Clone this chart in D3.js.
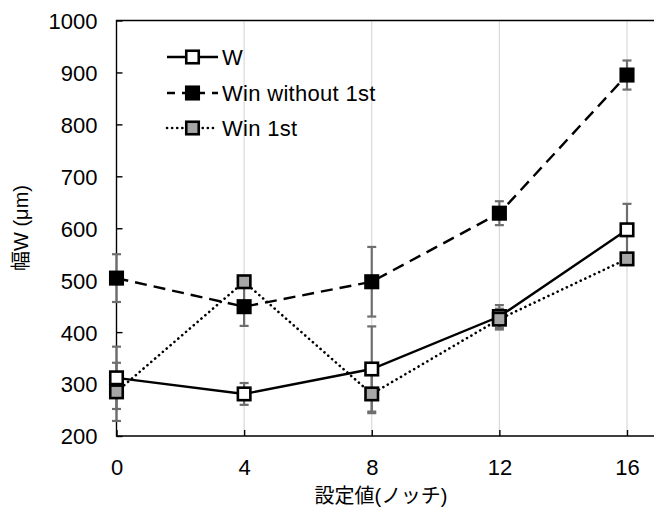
<!DOCTYPE html>
<html>
<head>
<meta charset="utf-8">
<script src="https://cdn.jsdelivr.net/npm/d3@7/dist/d3.min.js"></script>
<style>
  html, body { margin: 0; padding: 0; background: #fff; }
  svg { display: block; }
  text { font-family: "Liberation Sans", Arial, "Noto Sans CJK JP", sans-serif; fill: #000; }
</style>
</head>
<body>
<svg id="chart" width="654" height="509"></svg>
<script>
// Setting (notch) positions
const notches = [0, 4, 8, 12, 16];

// Width values (µm) and their error half-ranges
const wValues = [312, 281, 329, 430, 597];
const wErr = [60, 21, 82, 22, 50];

const winWithoutValues = [504, 449, 497, 629, 895];
const winWithoutErr = [46, 37, 67, 23, 28];

const win1stValues = [285, 497, 281, 425, 541];
const win1stErr = [56, 10, 37, 20, 10];

const yTicks = [200, 300, 400, 500, 600, 700, 800, 900, 1000];
const xTicks = [0, 4, 8, 12, 16];

const seriesNames = ["W", "Win without 1st", "Win 1st"];

const series = [
  { name: seriesNames[0], values: wValues, err: wErr, fill: "#ffffff", dash: null },
  { name: seriesNames[1], values: winWithoutValues, err: winWithoutErr, fill: "#000000", dash: "12,7" },
  { name: seriesNames[2], values: win1stValues, err: win1stErr, fill: "#a6a6a6", dash: "0.1,5" }
];

const svg = d3.select("#chart");
const plotLeft = 116.5, plotRight = 654, plotTop = 20.5, plotBottom = 436;

const x = d3.scaleLinear().domain([0, 16]).range([plotLeft, 627]);
const y = d3.scaleLinear().domain([200, 1000]).range([plotBottom, plotTop]);

// Vertical gridlines
svg.append("g")
  .selectAll("line")
  .data(xTicks.filter(d => d > 0))
  .join("line")
  .attr("x1", d => x(d)).attr("x2", d => x(d))
  .attr("y1", plotTop).attr("y2", plotBottom)
  .attr("stroke", "#d9d9d9").attr("stroke-width", 1.2);

// Plot frame (top, left, bottom)
svg.append("path")
  .attr("d", `M${plotRight},${plotTop}H${plotLeft}V${plotBottom}H${plotRight}`)
  .attr("fill", "none").attr("stroke", "#000").attr("stroke-width", 1.4);

// Y axis with inward ticks
const yAxis = svg.append("g")
  .attr("transform", `translate(${plotLeft},0)`)
  .call(d3.axisLeft(y).tickValues(yTicks).tickFormat(d3.format("d"))
    .tickSizeInner(-6).tickSizeOuter(0).tickPadding(19));
yAxis.select(".domain").remove();
yAxis.selectAll(".tick line").attr("stroke", "#000").attr("stroke-width", 1.4);
yAxis.selectAll("text").style("font-size", "22px").attr("dy", "0.36em");

// X axis with inward ticks
const xAxis = svg.append("g")
  .attr("transform", `translate(0,${plotBottom})`)
  .call(d3.axisBottom(x).tickValues(xTicks).tickFormat(d3.format("d"))
    .tickSizeInner(-6).tickSizeOuter(0).tickPadding(23));
xAxis.select(".domain").remove();
xAxis.selectAll(".tick line").attr("stroke", "#000").attr("stroke-width", 1.4);
xAxis.selectAll("text").style("font-size", "22px").attr("dy", "0.71em");

// Axis titles
svg.append("text")
  .attr("x", 381).attr("y", 503)
  .attr("text-anchor", "middle")
  .style("font-size", "20px")
  .text("設定値(ノッチ)");

svg.append("text")
  .attr("transform", `translate(28,228) rotate(-90)`)
  .attr("text-anchor", "middle")
  .style("font-size", "20px")
  .text("幅W (μm)");

// Error bars
const errG = svg.append("g");
series.forEach(s => {
  s.values.forEach((v, i) => {
    const cx = x(notches[i]);
    const y1 = y(v + s.err[i]), y2 = y(v - s.err[i]);
    errG.append("line").attr("x1", cx).attr("x2", cx).attr("y1", y1).attr("y2", y2)
      .attr("stroke", "#6e6e6e").attr("stroke-width", 2.2);
    [y1, y2].forEach(yy => errG.append("line")
      .attr("x1", cx - 4.5).attr("x2", cx + 4.5).attr("y1", yy).attr("y2", yy)
      .attr("stroke", "#6e6e6e").attr("stroke-width", 2.2));
  });
});

// Lines
const lineGen = d3.line().x((d, i) => x(notches[i])).y(d => y(d));
series.forEach(s => {
  svg.append("path")
    .datum(s.values)
    .attr("d", lineGen)
    .attr("fill", "none")
    .attr("stroke", "#000")
    .attr("stroke-width", s.dash === "0.1,5" ? 2.6 : 2.4)
    .attr("stroke-linecap", s.dash === "0.1,5" ? "round" : "butt")
    .attr("stroke-dasharray", s.dash);
});

// Markers
const ms = 12.5;
series.forEach(s => {
  svg.append("g").selectAll("rect")
    .data(s.values)
    .join("rect")
    .attr("x", (d, i) => x(notches[i]) - ms / 2)
    .attr("y", d => y(d) - ms / 2)
    .attr("width", ms).attr("height", ms)
    .attr("fill", s.fill)
    .attr("stroke", "#000").attr("stroke-width", 2.6);
});

// Legend
const legend = svg.append("g");
const rowY = [57, 93, 128];
series.forEach((s, i) => {
  const ly = rowY[i];
  legend.append("line")
    .attr("x1", 167).attr("x2", 218).attr("y1", ly).attr("y2", ly)
    .attr("stroke", "#000")
    .attr("stroke-width", s.dash === "0.1,5" ? 2.6 : 2.4)
    .attr("stroke-linecap", s.dash === "0.1,5" ? "round" : "butt")
    .attr("stroke-dasharray", s.dash === "12,7" ? "8,7" : s.dash);
  legend.append("rect")
    .attr("x", 192.5 - ms / 2).attr("y", ly - ms / 2)
    .attr("width", ms).attr("height", ms)
    .attr("fill", s.fill).attr("stroke", "#000").attr("stroke-width", 2.6);
  legend.append("text")
    .attr("x", 222).attr("y", ly).attr("dy", "0.36em")
    .style("font-size", "22px")
    .style("letter-spacing", "0.3px")
    .text(s.name);
});
</script>
</body>
</html>
